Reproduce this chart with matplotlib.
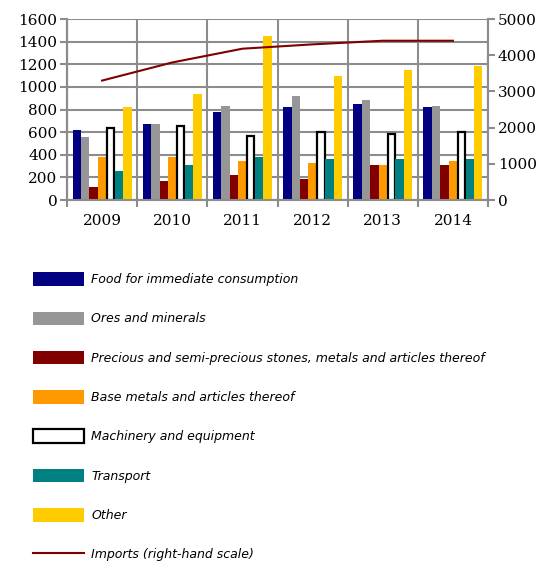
import matplotlib
matplotlib.use("Agg")
import matplotlib.pyplot as plt
import numpy as np
from matplotlib.patches import Patch
from matplotlib.lines import Line2D

years = ["2009", "2010", "2011", "2012", "2013", "2014"]
series_names = [
    "Food for immediate consumption",
    "Ores and minerals",
    "Precious and semi-precious stones, metals and articles thereof",
    "Base metals and articles thereof",
    "Machinery and equipment",
    "Transport",
    "Other",
]
food = [620, 676, 782, 818, 853, 818]
ores = [553, 676, 832, 920, 888, 832]
precious = [112, 165, 218, 185, 306, 306]
base = [376, 376, 341, 324, 306, 341]
machinery = [635, 653, 568, 600, 582, 600]
transport = [253, 306, 376, 359, 359, 359]
other = [818, 938, 1453, 1097, 1150, 1185]
imports = [3300, 3800, 4180, 4300, 4400, 4400]
imports_label = "Imports (right-hand scale)"

values = [food, ores, precious, base, machinery, transport, other]
colors = ["#000080", "#969696", "#800000", "#FF9900", "#FFFFFF", "#008080", "#FFCC00"]
edges = [None, None, None, None, "black", None, None]
line_color = "#800000"
grid_color = "#8C8C8C"

fig = plt.figure(figsize=(5.53, 5.66), dpi=100)
ax = fig.add_axes([0.1212, 0.6466, 0.7613, 0.3198])
ax2 = ax.twinx()

x = np.arange(len(years))
n = len(values)
bw = 0.12
for i, (vals, c, ec) in enumerate(zip(values, colors, edges)):
    offs = (i - (n - 1) / 2) * bw
    if ec:
        ax.bar(x + offs, vals, bw * 0.85, color=c, edgecolor=ec, linewidth=1.6, zorder=3)
    else:
        ax.bar(x + offs, vals, bw, color=c, linewidth=0, zorder=3)

ax2.plot(x, imports, color=line_color, linewidth=1.5, zorder=4)

ax.set_xlim(-0.5, len(years) - 0.5)
ax.set_ylim(0, 1600)
ax.set_yticks(np.arange(0, 1601, 200))
ax2.set_ylim(0, 5000)
ax2.set_yticks(np.arange(0, 5001, 1000))

ax.set_xticks(x)
ax.set_xticklabels(years)
ax.set_xticks(np.arange(-0.5, len(years), 1), minor=True)
ax.tick_params(axis="x", which="major", length=0, pad=10)
ax.tick_params(axis="x", which="minor", length=5, width=1.5, color=grid_color)
ax.tick_params(axis="y", length=5, width=1.5, color=grid_color, pad=2)
ax2.tick_params(axis="y", length=5, width=1.5, color=grid_color, pad=2)

for lab in ax.get_xticklabels() + ax.get_yticklabels() + ax2.get_yticklabels():
    lab.set_fontfamily("DejaVu Serif")
    lab.set_fontsize(11)

ax.grid(True, axis="y", color=grid_color, linewidth=1.5, zorder=0)
ax.grid(True, axis="x", which="minor", color=grid_color, linewidth=1.5, zorder=0)
ax.set_axisbelow(True)
for a in (ax, ax2):
    for s in a.spines.values():
        s.set_color(grid_color)
        s.set_linewidth(1.5)
    a.spines["top"].set_visible(False)

handles = []
for c, ec in zip(colors, edges):
    if ec:
        handles.append(Patch(facecolor=c, edgecolor=ec, linewidth=1.6))
    else:
        handles.append(Patch(facecolor=c, edgecolor="none"))
handles.append(Line2D([0], [0], color=line_color, linewidth=1.5))
labels = series_names + [imports_label]

leg = fig.legend(handles, labels, loc="upper left", bbox_to_anchor=(0.060, 0.519),
                 frameon=False, prop={"family": "DejaVu Sans", "style": "italic", "size": 9},
                 handlelength=4.1, handleheight=1.28, labelspacing=2.03,
                 handletextpad=0.56, borderpad=0, borderaxespad=0)

fig.savefig("out.png", dpi=100)
